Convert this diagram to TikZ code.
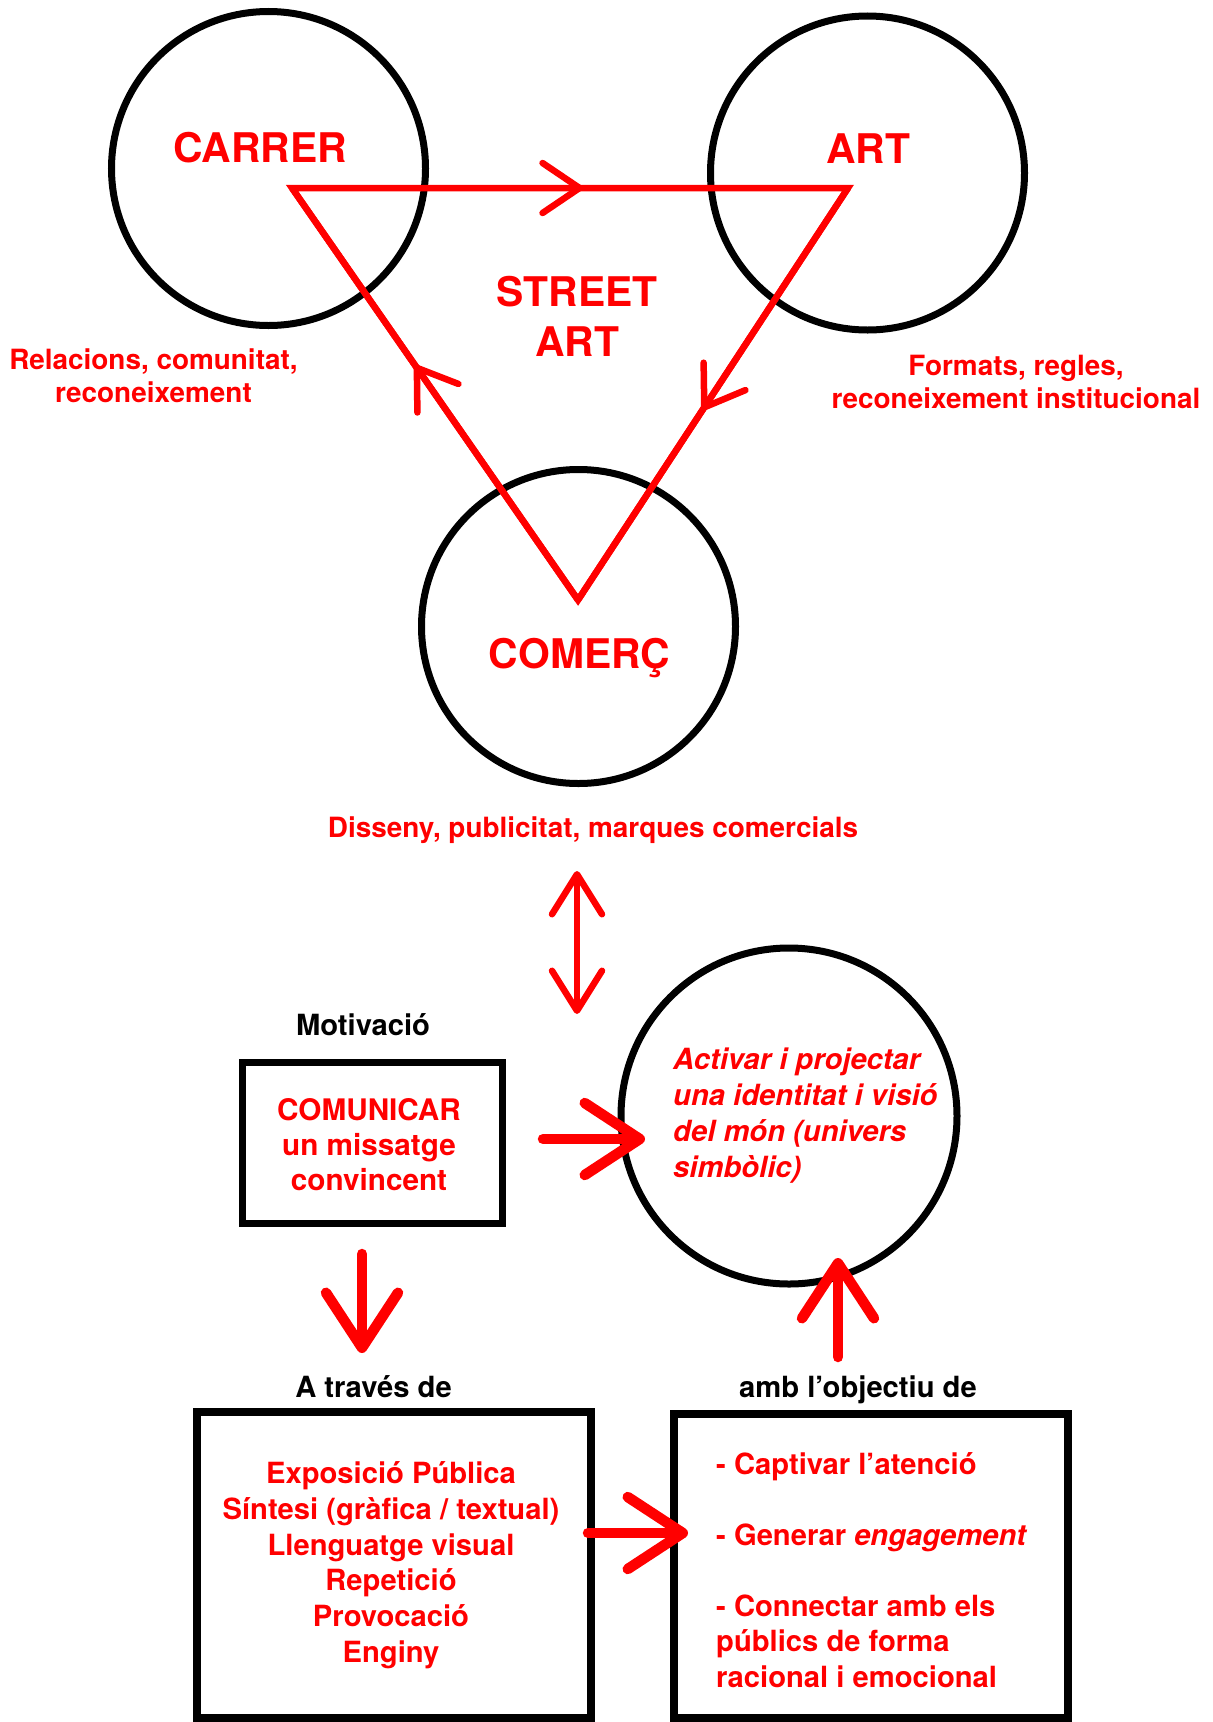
\documentclass[tikz,border=0pt]{standalone}
\usepackage{fontspec}
\setmainfont{TeX Gyre Heros}
\usetikzlibrary{arrows.meta,decorations.markings}
\definecolor{rd}{RGB}{255,0,0}
\begin{document}
\begin{tikzpicture}[x=1bp,y=-1bp,
  ring/.style={circle, draw=black, line width=7bp, minimum size=#1, inner sep=0pt, outer sep=0pt},
  frame/.style={rectangle, draw=black, line width=7.5bp, inner sep=0pt, outer sep=0pt},
  bigtxt/.style={text=rd, font=\fontsize{41}{50}\selectfont\bfseries, inner sep=0pt, align=center, anchor=base},
  smalltxt/.style={text=rd, font=\fontsize{28}{33}\selectfont\bfseries, inner sep=0pt, align=center, anchor=base},
  lowtxt/.style={text=rd, font=\fontsize{29.3}{35.8}\selectfont\bfseries, inner sep=0pt, align=center, anchor=base},
  blacktxt/.style={text=black, font=\fontsize{29.3}{33}\selectfont\bfseries, inner sep=0pt, anchor=base},
  tri/.style={draw=rd, line width=6.5bp},
  midarrow/.style={tri, postaction={decorate}, decoration={markings,
     mark=at position #1 with {\arrow{Straight Barb[length=37bp,width=50bp,round]}}}},
  thin arrow/.style={draw=rd, line width=6.5bp, line cap=round,
     {Straight Barb[length=40bp,width=50bp,round]}-{Straight Barb[length=40bp,width=50bp,round]}},
  fat arrow/.style={draw=rd, line width=10.5bp, line cap=round,
     -{Straight Barb[length=55bp,width=72bp,round]}}
]
\useasboundingbox (0,0) rectangle (1212,1722);
\fill[white] (0,0) rectangle (1212,1722);

% circles of the triangle
\node[ring=314bp] (carrer) at (268.5,168.5) {};
\node[ring=314bp] (art) at (867.5,173) {};
\node[ring=314bp] (comerc) at (578.5,626.5) {};

% triangle
\coordinate (tA) at (292,188);
\coordinate (tB) at (848,188);
\coordinate (tC) at (578,600);
\draw[tri, line join=miter] (tA) -- (tB) -- (tC) -- cycle;
\path[midarrow=0.523] (tA) -- (tB);
\path[midarrow=0.539] (tB) -- (tC);
\path[midarrow=0.570] (tC) -- (tA);

% labels of the triangle (multi-line nodes: base = last line)
\node[bigtxt] (lcarrer) at (260,162) {CARRER};
\node[bigtxt] (lart) at (868,163) {ART};
\node[bigtxt] (lstreet) at (577,356) {STREET\\ART};
\node[bigtxt] (lcomerc) at (579.5,668) {COMERÇ};
\node[smalltxt] (lrel) at (153.5,402) {Relacions, comunitat,\\reconeixement};
\node[smalltxt] (lfor) at (1016,408) {Formats, regles,\\reconeixement institucional};
\node[smalltxt] (ldis) at (593,837) {Disseny, publicitat, marques comercials};

% double arrow
\coordinate (dtop) at (577,871);
\coordinate (dbot) at (577,1014);
\draw[thin arrow] (dtop) -- (dbot);

% lower part
\node[blacktxt] (lmot) at (363,1035) {Motivació};
\node[frame, minimum width=260bp, minimum height=161bp] (comm) at (372.5,1143) {};
\node[lowtxt, font=\fontsize{29.8}{35}\selectfont\bfseries] (lcomm) at (369,1190) {COMUNICAR\\un missatge\\convincent};

\node[ring=336bp] (goal) at (789,1116) {};
\node[text=rd, font=\fontsize{29.3}{36}\selectfont\bfseries\itshape, inner sep=0pt, align=left, anchor=base west] (lgoal) at (673,1177)
  {Activar i projectar\\una identitat i visió\\del món (univers\\simbòlic)};

\coordinate (a1s) at (543,1139);
\coordinate (a1e) at (645,1139);
\draw[fat arrow] (a1s) -- (a1e);

\coordinate (a2s) at (362,1254);
\coordinate (a2e) at (362,1353);
\draw[fat arrow] (a2s) -- (a2e);

\coordinate (a3s) at (838,1357);
\coordinate (a3e) at (838,1258);
\draw[fat arrow] (a3s) -- (a3e);

\node[blacktxt] (ltra) at (373.5,1397) {A través de};
\node[blacktxt] (lobj) at (858,1397) {amb l’objectiu de};

\node[frame, minimum width=394bp, minimum height=306bp] (means) at (394,1565) {};
\node[frame, minimum width=394bp, minimum height=304bp] (aims) at (871,1566) {};

\node[lowtxt] (lmeans) at (391,1662)
  {Exposició Pública\\Síntesi (gràfica / textual)\\Llenguatge visual\\Repetició\\Provocació\\Enginy};
\node[text=rd, font=\fontsize{29.3}{35.5}\selectfont\bfseries, inner sep=0pt, align=left, anchor=base west] (laims) at (716,1687)
  {- Captivar l’atenció\\[35.5bp]- Generar \textit{engagement}\\[35.5bp]- Connectar amb els\\públics de forma\\racional i emocional};

\coordinate (a4s) at (588,1533);
\coordinate (a4e) at (688,1533);
\draw[fat arrow] (a4s) -- (a4e);
\end{tikzpicture}
\end{document}
